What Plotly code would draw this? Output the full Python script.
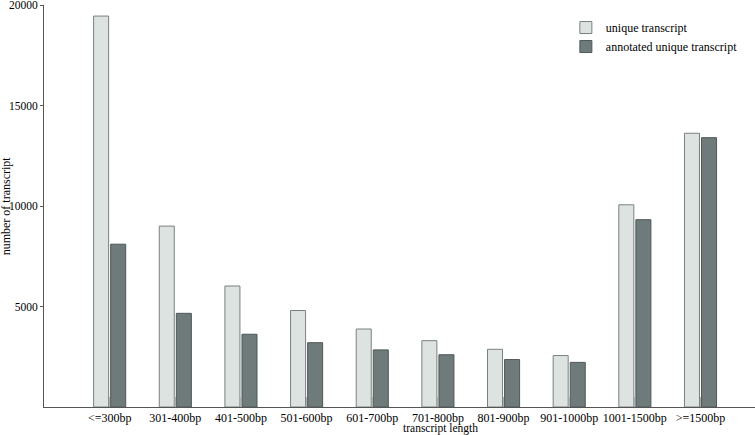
import plotly.graph_objects as go

# data
categories = ["<=300bp", "301-400bp", "401-500bp", "501-600bp", "601-700bp",
              "701-800bp", "801-900bp", "901-1000bp", "1001-1500bp", ">=1500bp"]
unique_transcript = [19450, 9000, 6020, 4800, 3880, 3300, 2870, 2560, 10060, 13620]
annotated_unique = [8100, 4660, 3620, 3200, 2840, 2600, 2360, 2220, 9320, 13400]
y_ticks = [5000, 10000, 15000, 20000]

FONT = "Liberation Serif"

fig = go.Figure()
fig.add_trace(go.Bar(x=categories, y=unique_transcript, name="unique transcript",
                     marker=dict(color="#dde3e1", line=dict(color="#7a8080", width=1))))
fig.add_trace(go.Bar(x=categories, y=annotated_unique, name="annotated unique transcript",
                     marker=dict(color="#6e7b7a", line=dict(color="#4e5857", width=1))))

fig.update_layout(
    width=755, height=435,
    margin=dict(l=44, r=0, t=5, b=28),
    paper_bgcolor="white", plot_bgcolor="white",
    font=dict(family=FONT, size=12, color="black"),
    barmode="group", bargap=0.48, bargroupgap=0.12,
    legend=dict(x=0.734, y=0.98, xanchor="left", yanchor="top",
                bgcolor="rgba(0,0,0,0)", font=dict(size=12), tracegroupgap=0),
    showlegend=True,
)
fig.update_xaxes(range=[-1.0, 9.83], showline=True, linecolor="#555", linewidth=1,
                 ticks="inside", ticklen=10, tickcolor="#b0b0b0", tickwidth=1,
                 showgrid=False, tickfont=dict(size=12), automargin=False)
fig.update_yaxes(range=[0, 20000], showline=True, linecolor="#555", linewidth=1,
                 tickvals=y_ticks, ticktext=[str(v) for v in y_ticks],
                 ticks="outside", ticklen=3, tickcolor="#555",
                 showgrid=False, zeroline=False, tickfont=dict(size=11.5),
                 automargin=False, ticklabeloverflow="allow")

fig.add_annotation(text="number of transcript", xref="paper", yref="paper",
                   x=-0.053, y=0.5, textangle=-90, showarrow=False,
                   xanchor="center", yanchor="middle", font=dict(size=12))
fig.add_annotation(text="transcript length", xref="paper", yref="paper",
                   x=0.558, y=0, yshift=-21, yanchor="middle", showarrow=False,
                   font=dict(size=11.5))

# drop the page's default body margin so the figure sits at the window corner
fig.write_html("out.html", config={"displayModeBar": False},
               post_script="document.body.style.margin='0';")
